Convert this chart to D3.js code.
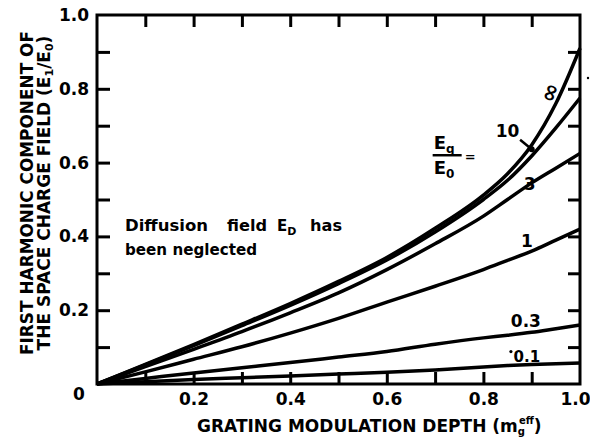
<!DOCTYPE html>
<html><head><meta charset="utf-8">
<script src="https://cdn.jsdelivr.net/npm/d3@7"></script>
<style>
body{margin:0;background:#fff}
svg{display:block;background:#fff}
text{font-family:"DejaVu Sans",sans-serif;font-weight:bold;fill:#000}
</style>
</head><body>
<svg id="c" width="590" height="437"></svg>
<script>
// ---- data ----
const modulationDepth = [0, 0.1, 0.2, 0.3, 0.4, 0.5, 0.6, 0.7, 0.8, 0.85, 0.9, 0.95, 1.0];
const ratioInf  = [0, 0.053, 0.107, 0.162, 0.218, 0.278, 0.343, 0.422, 0.512, 0.570, 0.648, 0.760, 0.91];
const ratio10   = [0, 0.052, 0.104, 0.158, 0.213, 0.272, 0.336, 0.412, 0.500, 0.552, 0.618, 0.694, 0.775];
const ratio3    = [0, 0.047, 0.094, 0.142, 0.193, 0.247, 0.310, 0.380, 0.455, 0.500, 0.545, 0.585, 0.625];
const ratio1    = [0, 0.033, 0.067, 0.101, 0.138, 0.178, 0.222, 0.265, 0.310, 0.335, 0.360, 0.390, 0.420];
const ratio03   = [0, 0.015, 0.030, 0.044, 0.058, 0.073, 0.088, 0.108, 0.125, 0.132, 0.140, 0.150, 0.160];
const ratio01   = [0, 0.006, 0.012, 0.017, 0.022, 0.027, 0.032, 0.038, 0.046, 0.050, 0.053, 0.055, 0.057];
const seriesLabels = ["\u221E", "10", "3", "1", "0.3", "0.1"];
const minorTicks = [0.1, 0.2, 0.3, 0.4, 0.5, 0.6, 0.7, 0.8, 0.9];
const xTickLabels = [0.2, 0.4, 0.6, 0.8, 1.0];
const yTickLabels = [0.2, 0.4, 0.6, 0.8, 1.0];

const svg = d3.select("#c");
const x = d3.scaleLinear().domain([0, 1]).range([97, 580]);
const y = d3.scaleLinear().domain([0, 1]).range([384, 15]);

// inward ticks on all four sides
function styleTicks(g){
  g.select(".domain").remove();
  g.selectAll("line").attr("stroke", "#000").attr("stroke-width", 3);
}
svg.append("g").attr("transform", `translate(0,${y(0)})`)
  .call(d3.axisBottom(x).tickValues(minorTicks).tickSize(-12).tickFormat("")).call(styleTicks);
svg.append("g").attr("transform", `translate(0,${y(1)})`)
  .call(d3.axisTop(x).tickValues(minorTicks).tickSize(-12).tickFormat("")).call(styleTicks);
svg.append("g").attr("transform", `translate(${x(0)},0)`)
  .call(d3.axisRight(y).tickValues(minorTicks).tickSize(13).tickFormat("")).call(styleTicks);
svg.append("g").attr("transform", `translate(${x(1)},0)`)
  .call(d3.axisLeft(y).tickValues(minorTicks).tickSize(12).tickFormat("")).call(styleTicks);

// frame
svg.append("rect").attr("x", x(0)).attr("y", y(1))
  .attr("width", x(1) - x(0)).attr("height", y(0) - y(1))
  .attr("fill", "none").attr("stroke", "#000").attr("stroke-width", 3);

// tick labels
const fmt = d3.format(".1f");
const gx = svg.append("g").attr("transform", `translate(0,${y(0)})`)
  .call(d3.axisBottom(x).tickValues(xTickLabels).tickSize(0).tickPadding(9).tickFormat(fmt));
gx.select(".domain").remove();
gx.selectAll("text").attr("font-size", 17).attr("font-family", "DejaVu Sans").attr("font-weight", "bold")
  .attr("dx", d => d === 1 ? -5 : 0);
const gy = svg.append("g").attr("transform", `translate(${x(0)},0)`)
  .call(d3.axisLeft(y).tickValues(yTickLabels).tickSize(0).tickPadding(8).tickFormat(fmt));
gy.select(".domain").remove();
gy.selectAll("text").attr("font-size", 17).attr("font-family", "DejaVu Sans").attr("font-weight", "bold");
svg.append("text").attr("x", x(0) - 18).attr("y", y(0) + 16)
  .attr("text-anchor", "middle").attr("font-size", 17).text("0");

// curves
const allSeries = [ratioInf, ratio10, ratio3, ratio1, ratio03, ratio01];
const line = d3.line().x((d, i) => x(modulationDepth[i])).y(d => y(d)).curve(d3.curveMonotoneX);
svg.append("g").selectAll("path").data(allSeries).join("path")
  .attr("d", d => line(d)).attr("fill", "none").attr("stroke", "#000")
  .attr("stroke-width", 3.5).attr("stroke-linejoin", "round");

// curve labels
svg.append("text").attr("transform", `translate(${x(0.937)},${y(0.79)}) rotate(-70)`)
  .attr("text-anchor", "middle").attr("dy", "0.35em").attr("font-size", 23).text(seriesLabels[0]);
svg.append("text").attr("x", x(0.85)).attr("y", y(0.67)).attr("text-anchor", "middle")
  .attr("font-size", 17).text(seriesLabels[1]);
svg.append("line").attr("x1", x(0.876)).attr("y1", y(0.662)).attr("x2", x(0.9)).attr("y2", y(0.636))
  .attr("stroke", "#000").attr("stroke-width", 2.5);
svg.append("circle").attr("cx", x(0.9)).attr("cy", y(0.636)).attr("r", 3).attr("fill", "#000");
svg.append("text").attr("x", x(0.896)).attr("y", y(0.525)).attr("text-anchor", "middle")
  .attr("font-size", 17).text(seriesLabels[2]);
svg.append("text").attr("x", x(0.89)).attr("y", y(0.37)).attr("text-anchor", "middle")
  .attr("font-size", 17).text(seriesLabels[3]);
svg.append("text").attr("x", x(0.888)).attr("y", y(0.155)).attr("text-anchor", "middle")
  .attr("font-size", 17).text(seriesLabels[4]);
svg.append("text").attr("x", x(0.89)).attr("y", y(0.06)).attr("text-anchor", "middle")
  .attr("font-size", 15).text(seriesLabels[5]);
svg.append("circle").attr("cx", x(0.857)).attr("cy", y(0.088)).attr("r", 1.6).attr("fill", "#000");

// legend fraction Eq/E0 =
const lg = svg.append("g").attr("transform", `translate(${x(0.697)},${y(0.62)})`);
lg.append("text").attr("x", 0).attr("y", -6).attr("font-size", 18).text("E")
  .append("tspan").attr("font-size", 12).attr("dy", 4).text("q");
lg.append("line").attr("x1", -1).attr("x2", 28).attr("y1", 0).attr("y2", 0)
  .attr("stroke", "#000").attr("stroke-width", 2.5);
lg.append("text").attr("x", 0).attr("y", 19).attr("font-size", 18).text("E")
  .append("tspan").attr("font-size", 12).attr("dy", 4).text("0");
lg.append("text").attr("x", 31).attr("y", 6).attr("font-size", 13).text("=");

// stray mark at right edge
svg.append("circle").attr("cx", 588).attr("cy", 78).attr("r", 1.2).attr("fill", "#000");

// annotation
const note = svg.append("g").attr("font-size", 15);
note.append("text").attr("x", 125).attr("y", 231)
  .attr("textLength", 83).attr("lengthAdjust", "spacingAndGlyphs").text("Diffusion");
note.append("text").attr("x", 227).attr("y", 231)
  .attr("textLength", 40).attr("lengthAdjust", "spacingAndGlyphs").text("field");
const ed = note.append("text").attr("x", 277).attr("y", 231).text("E");
ed.append("tspan").attr("font-size", 11).attr("dy", 4).text("D");
note.append("text").attr("x", 310).attr("y", 231)
  .attr("textLength", 32).attr("lengthAdjust", "spacingAndGlyphs").text("has");
note.append("text").attr("x", 125).attr("y", 255)
  .attr("textLength", 132).attr("lengthAdjust", "spacingAndGlyphs").text("been neglected");

// y title
const yt = svg.append("g").attr("transform", "translate(0,193) rotate(-90)");
yt.append("text").attr("x", 0).attr("y", 33).attr("text-anchor", "middle").attr("font-size", 18)
  .attr("textLength", 324).attr("lengthAdjust", "spacingAndGlyphs").text("FIRST HARMONIC COMPONENT OF");
const t2 = yt.append("text").attr("x", 0).attr("y", 50).attr("text-anchor", "middle").attr("font-size", 17);
t2.append("tspan").text("THE SPACE CHARGE FIELD (E");
t2.append("tspan").attr("font-size", 11).attr("dy", 3).text("1");
t2.append("tspan").attr("dy", -3).text("/E");
t2.append("tspan").attr("font-size", 11).attr("dy", 3).text("0");
t2.append("tspan").attr("dy", -3).text(")");

// x title
const xt = svg.append("text").attr("x", 197).attr("y", 432).attr("font-size", 17);
xt.append("tspan").text("GRATING  MODULATION  DEPTH (m");
xt.append("tspan").attr("font-size", 10).attr("dy", 3).text("g");
xt.append("tspan").attr("font-size", 10).attr("dx", -6).attr("dy", -11).text("eff");
xt.append("tspan").attr("dy", 8).text(")");
</script>
</body></html>
